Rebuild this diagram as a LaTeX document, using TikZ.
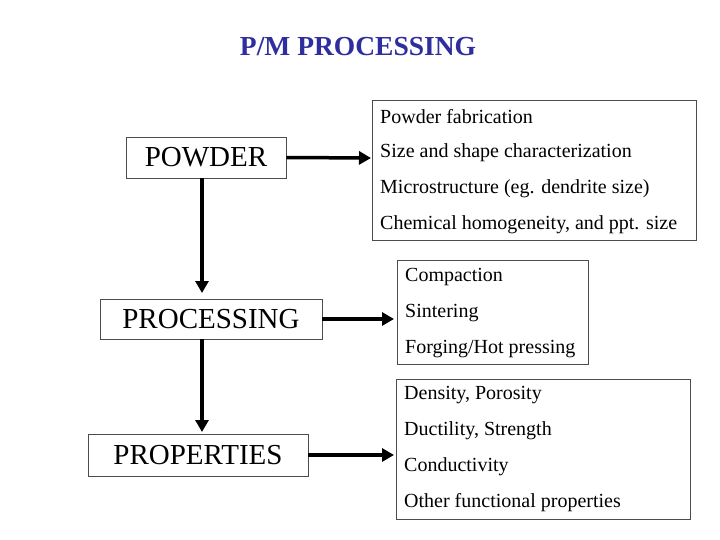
\documentclass[tikz,border=0pt]{standalone}
\usepackage{fontspec}
\setmainfont{Liberation Serif}
\usetikzlibrary{arrows.meta}
\definecolor{ttl}{HTML}{2E2E9E}
\begin{document}
\begin{tikzpicture}[x=1pt,y=-1pt,
  main/.style={draw=black!70,line width=0.8pt,font=\fontsize{29}{31}\selectfont,inner sep=0pt},
  lst/.style={draw=black!70,line width=0.8pt,inner sep=0pt},
  item/.style={anchor=west,font=\fontsize{20}{22}\selectfont,inner sep=0pt},
  arr/.style={line width=3.5pt,-{Triangle[length=12pt,width=13pt]}}]
\useasboundingbox (0,0) rectangle (720,540);
\node[font=\bfseries\fontsize{27.5}{29}\selectfont,text=ttl] (title) at (358,47) {P/M PROCESSING};
\node[main,minimum width=160pt,minimum height=41pt] (powder) at (206,157.5) {POWDER};
\node[main,minimum width=222pt,minimum height=40pt] (proc) at (211,319) {PROCESSING};
\node[main,minimum width=220pt,minimum height=42pt] (prop) at (198,455) {PROPERTIES};
\node[lst,minimum width=324pt,minimum height=140pt] (b1) at (534,170) {};
\node[lst,minimum width=191pt,minimum height=104pt] (b2) at (492.5,312) {};
\node[lst,minimum width=294pt,minimum height=140pt] (b3) at (543,449) {};
\node[item] (a1) at (380,117) {Powder fabrication};
\node[item] (a2) at (380,153) {Size and shape characterization};
\node[item] (a3) at (380,189) {Microstructure (eg. dendrite size)};
\node[item] (a4) at (380,225) {Chemical homogeneity, and ppt. size};
\node[item] (c1) at (405,277) {Compaction};
\node[item] (c2) at (405,313) {Sintering};
\node[item] (c3) at (405,349) {Forging/Hot pressing};
\node[item] (d1) at (404,395) {Density, Porosity};
\node[item] (d2) at (404,431) {Ductility, Strength};
\node[item] (d3) at (404,467) {Conductivity};
\node[item] (d4) at (404,503) {Other functional properties};
\coordinate (e1) at (371,158);
\coordinate (e2) at (394,319);
\coordinate (e3) at (394,455);
\draw[arr] (powder.east) -- (e1);
\draw[arr] (proc.east) -- (e2);
\draw[arr] (prop.east) -- (e3);
\draw[arr] (202,178) -- (202,293);
\draw[arr] (202,339) -- (202,432);
\end{tikzpicture}
\end{document}
